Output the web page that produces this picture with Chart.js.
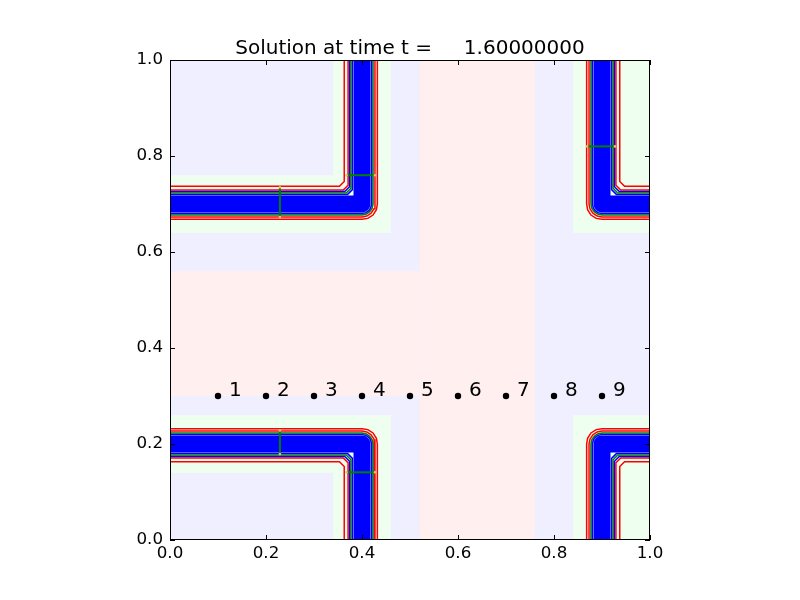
<!DOCTYPE html>
<html>
<head>
<meta charset="utf-8">
<script src="https://cdn.jsdelivr.net/npm/chart.js@4.4.0/dist/chart.umd.min.js"></script>
<style>
  html, body { margin: 0; padding: 0; background: #fff; }
</style>
</head>
<body>
<canvas id="solChart" width="800" height="600"></canvas>
<script>
const titleText = 'Solution at time t =     1.60000000';
const tickValues = [0, 0.2, 0.4, 0.6, 0.8, 1.0];

// gauge points
const probeX = [0.1, 0.2, 0.3, 0.4, 0.5, 0.6, 0.7, 0.8, 0.9];
const probeY = [0.3, 0.3, 0.3, 0.3, 0.3, 0.3, 0.3, 0.3, 0.3];
const probeLabels = ['1', '2', '3', '4', '5', '6', '7', '8', '9'];

// AMR patches [x0, x1, y0, y1]
const level1Patches = [[0, 1, 0, 1]];
const level2Patches = [[0.52, 0.76, 0, 1], [0, 0.52, 0.30, 0.56]];
const level3Patches = [
  [0, 0.46, 0.64, 0.76], [0.34, 0.46, 0.76, 1], [0.84, 1, 0.64, 1],
  [0, 0.46, 0.14, 0.26], [0.34, 0.46, 0, 0.14], [0.84, 1, 0, 0.26]
];
const patchColors = ['#efefff', '#ffefef', '#efffef'];

// contours of the upper-left elbow, the other three are mirror images
const mirrorX = 1.3;
const mirrorY = 0.9;
const bandCore = [[0, 0.70], [0.40, 0.70], [0.40, 1.00]];
const innerRedB = [[0, 0.737], [0.353, 0.737], [0.363, 0.747], [0.363, 1]];
const innerRedA = [[0, 0.729], [0.361, 0.729], [0.371, 0.739], [0.371, 1]];
const innerBlueB = [[0, 0.726], [0.364, 0.726], [0.374, 0.736], [0.374, 1]];
const innerGreen = [[0, 0.723], [0.367, 0.723], [0.377, 0.733], [0.377, 1]];
const innerBlueA = [[0, 0.720], [0.370, 0.720], [0.380, 0.730], [0.380, 1]];
const outerBlue = [[0, 0.680], [0.4, 0.680], [0.408, 0.682], [0.414, 0.686], [0.418, 0.692], [0.420, 0.7], [0.420, 1]];
const outerGreen = [[0, 0.677], [0.4, 0.677], [0.409, 0.679], [0.416, 0.684], [0.421, 0.691], [0.423, 0.7], [0.423, 1]];
const outerRedA = [[0, 0.673], [0.4, 0.673], [0.410, 0.675], [0.419, 0.681], [0.425, 0.690], [0.427, 0.7], [0.427, 1]];
const outerRedB = [[0, 0.668], [0.4, 0.668], [0.412, 0.670], [0.423, 0.677], [0.430, 0.688], [0.432, 0.7], [0.432, 1]];
const thinLines = [innerRedB, innerRedA, innerBlueB, innerGreen, innerBlueA, outerBlue, outerGreen, outerRedA, outerRedB];
const thinColors = ['#ff0000', '#ff0000', '#0000ff', '#008000', '#0000ff', '#0000ff', '#008000', '#ff0000', '#ff0000'];
const elbowFlips = [[false, false], [true, false], [false, true], [true, true]];

// fine grid edge markers
const markerLines = [
  [[0.229, 0.673], [0.229, 0.735]],
  [[0.368, 0.76], [0.427, 0.76]],
  [[0.869, 0.82], [0.927, 0.82]],
  [[0.229, 0.179], [0.229, 0.228]],
  [[0.368, 0.141], [0.427, 0.141]]
];

function toXY(pts, flipX, flipY) {
  return pts.map(p => ({
    x: flipX ? mirrorX - p[0] : p[0],
    y: flipY ? mirrorY - p[1] : p[1]
  }));
}

const datasets = [];
datasets.push({
  data: probeX.map((x, i) => ({ x: x, y: probeY[i] })),
  pointRadius: 3.2, pointBackgroundColor: '#000', pointBorderWidth: 0,
  showLine: false, order: 0
});
markerLines.forEach(m => {
  datasets.push({
    data: toXY(m, false, false), showLine: true, borderColor: '#008000', borderWidth: 2,
    pointRadius: 1.3, pointBackgroundColor: '#d8c870', pointBorderWidth: 0, order: 1, clip: 0
  });
});
elbowFlips.forEach(f => {
  thinLines.forEach((line, i) => {
    datasets.push({
      data: toXY(line, f[0], f[1]), showLine: true, borderColor: thinColors[i],
      borderWidth: 1.5, pointRadius: 0, order: 2, clip: 0
    });
  });
  datasets.push({
    data: toXY(bandCore, f[0], f[1]), showLine: true, borderColor: '#0000ff',
    borderWidth: 17, borderJoinStyle: 'round', pointRadius: 0, order: 3, clip: 0
  });
});

const patchPlugin = {
  id: 'patches',
  beforeDatasetsDraw(chart) {
    const { ctx, chartArea, scales: { x, y } } = chart;
    ctx.save();
    ctx.beginPath();
    ctx.rect(chartArea.left, chartArea.top, chartArea.width, chartArea.height);
    ctx.clip();
    [level1Patches, level2Patches, level3Patches].forEach((level, li) => {
      ctx.fillStyle = patchColors[li];
      level.forEach(p => {
        const x0 = x.getPixelForValue(p[0]), x1 = x.getPixelForValue(p[1]);
        const y0 = y.getPixelForValue(p[2]), y1 = y.getPixelForValue(p[3]);
        ctx.fillRect(x0, y1, x1 - x0, y0 - y1);
      });
    });
    ctx.restore();
  }
};

const framePlugin = {
  id: 'frame',
  afterDatasetsDraw(chart) {
    const { ctx, chartArea: a, scales: { x, y } } = chart;
    ctx.save();
    ctx.fillStyle = '#000';
    ctx.font = '20px "DejaVu Sans"';
    ctx.textBaseline = 'alphabetic';
    probeLabels.forEach((lab, i) => {
      ctx.fillText(lab, x.getPixelForValue(probeX[i]) + 11, y.getPixelForValue(probeY[i]));
    });
    // title
    ctx.textAlign = 'center';
    ctx.fillText(titleText, (a.left + a.right) / 2, a.top - 6);

    ctx.strokeStyle = '#000';
    ctx.lineWidth = 1;
    ctx.strokeRect(a.left + 0.5, a.top + 0.5, a.width - 1, a.height - 1);
    const len = 5;
    ctx.beginPath();
    tickValues.forEach(v => {
      const px = Math.round(x.getPixelForValue(v)) + 0.5;
      const py = Math.round(y.getPixelForValue(v)) + 0.5;
      ctx.moveTo(px, a.bottom); ctx.lineTo(px, a.bottom - len);
      ctx.moveTo(px, a.top); ctx.lineTo(px, a.top + len);
      ctx.moveTo(a.left, py); ctx.lineTo(a.left + len, py);
      ctx.moveTo(a.right, py); ctx.lineTo(a.right - len, py);
    });
    ctx.stroke();
    ctx.restore();
  }
};

new Chart(document.getElementById('solChart').getContext('2d'), {
  type: 'scatter',
  data: { datasets: datasets },
  options: {
    responsive: false,
    animation: false,
    layout: { padding: { left: 0, right: 150, top: 60, bottom: 0 } },
    plugins: {
      legend: { display: false },
      tooltip: { enabled: false },
      title: { display: false }
    },
    scales: {
      x: {
        type: 'linear', min: 0, max: 1,
        grid: { display: false, drawTicks: false },
        border: { display: false },
        ticks: {
          stepSize: 0.2, padding: 4, color: '#000', maxRotation: 0,
          font: { family: 'DejaVu Sans', size: 16.7 },
          callback: v => v.toFixed(1)
        },
        afterFit(scale) { scale.height = 60; }
      },
      y: {
        type: 'linear', min: 0, max: 1,
        grid: { display: false, drawTicks: false },
        border: { display: false },
        ticks: {
          stepSize: 0.2, padding: 7, color: '#000',
          font: { family: 'DejaVu Sans', size: 16.7 },
          callback: v => v.toFixed(1)
        },
        afterFit(scale) { scale.width = 170; }
      }
    }
  },
  plugins: [patchPlugin, framePlugin]
});
</script>
</body>
</html>
